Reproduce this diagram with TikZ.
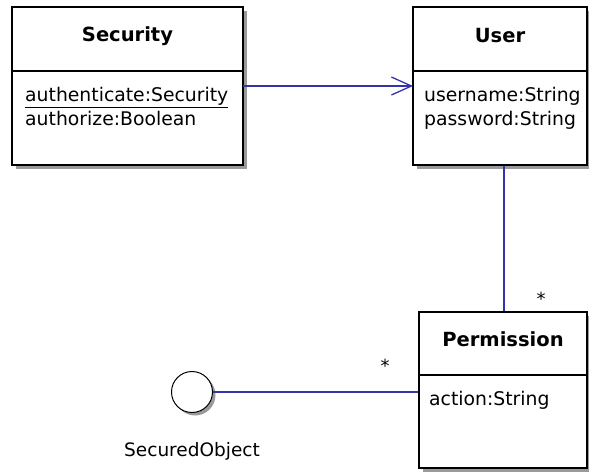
\documentclass[tikz,border=0pt]{standalone}
\usepackage{fontspec}
\setmainfont{DejaVu Sans}
\usetikzlibrary{arrows.meta,shadows}
\definecolor{assoc}{HTML}{3434A8}
\definecolor{shade}{HTML}{9A9A9A}
\tikzset{
  classbox/.style={draw=black, line width=1.6pt, fill=white, rectangle, inner sep=0pt,
    drop shadow={shadow xshift=4pt, shadow yshift=-4pt, fill=shade, opacity=1}},
  title/.style={font=\fontsize{19.5}{22}\selectfont\bfseries, inner sep=0pt},
  attrs/.style={font=\fontsize{18.8}{24.5}\selectfont, inner sep=0pt, align=left, anchor=north west},
  assocline/.style={draw=assoc, line width=1.3pt},
  mult/.style={font=\fontsize{18}{20}\selectfont, inner sep=0pt},
}
\begin{document}
\begin{tikzpicture}[x=1pt, y=-1pt]
\useasboundingbox (0,0) rectangle (589,472);

% Security class
\node[classbox, minimum width=231pt, minimum height=158pt] (sec) at (127.5,86) {};
\draw[line width=1.6pt] (12,71) coordinate (secl) -- (243,71) coordinate (secr);
\node[title] (sect) at (127.5,36) {Security};
\node[attrs] (seca) at (25,87) {\underline{authenticate:Security}\\authorize:Boolean};

% User class
\node[classbox, minimum width=174pt, minimum height=158pt] (usr) at (500,86) {};
\draw[line width=1.6pt] (413,71) coordinate (usrl) -- (587,71) coordinate (usrr);
\node[title] (usrt) at (500,36) {User};
\node[attrs] (usra) at (424,87) {username:String\\password:String};

% Permission class
\node[classbox, minimum width=168pt, minimum height=156pt] (perm) at (503,390) {};
\draw[line width=1.6pt] (419,375) coordinate (perml) -- (587,375) coordinate (permr);
\node[title] (permt) at (503,339) {Permission};
\node[attrs] (perma) at (429,391) {action:String};

% Interface lollipop
\node[circle, draw=black, line width=1pt, fill=white, minimum size=41pt, inner sep=0pt,
  drop shadow={shadow xshift=3pt, shadow yshift=-3pt, fill=shade, opacity=1}] (sobj) at (192,392) {};
\node[font=\fontsize{18.5}{20}\selectfont, inner sep=0pt] (sobjt) at (192,451) {SecuredObject};

% Associations
\coordinate (a1) at (243,86);
\coordinate (a2) at (413,86);
\draw[assocline, -{Straight Barb[length=20pt, width=18pt, line width=1.3pt]}] (a1) -- (a2);
\draw[assocline] (usr.south -| 504,0) -- (perm.north -| 504,0);
\draw[assocline] (sobj.east) -- (perm.west |- sobj.east);

% Multiplicities
\node[mult] (m1) at (541,299) {*};
\node[mult] (m2) at (385,366) {*};
\end{tikzpicture}
\end{document}
